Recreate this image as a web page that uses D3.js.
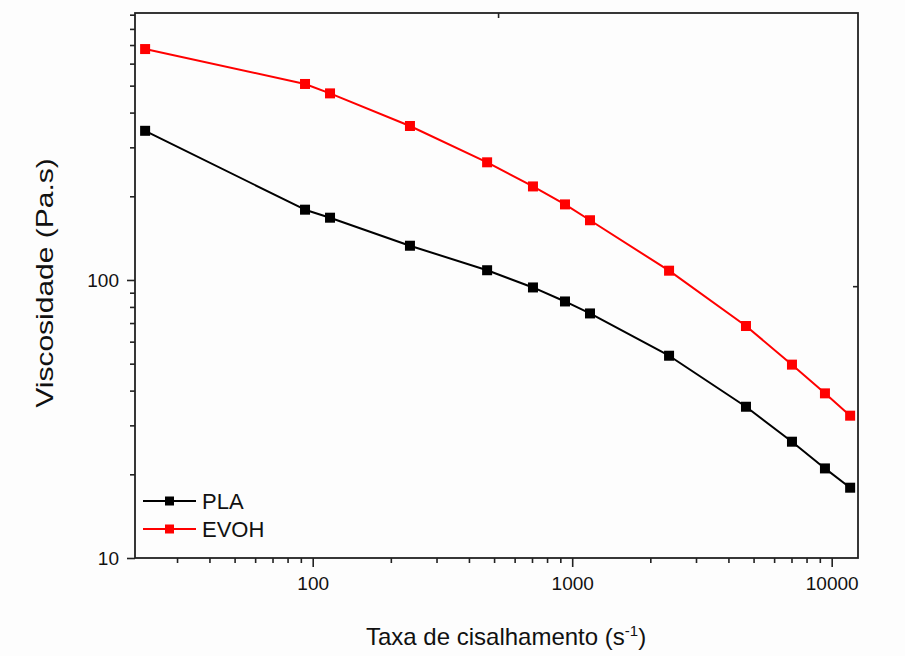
<!DOCTYPE html>
<html>
<head>
<meta charset="utf-8">
<script src="https://cdn.jsdelivr.net/npm/d3@7"></script>
<style>
  html, body { margin: 0; padding: 0; background: #fdfdfd; }
  svg { display: block; }
  text { font-family: "Liberation Sans", Arial, sans-serif; fill: #111; }
</style>
</head>
<body>
<script>
// ---- data ----
const shearRate = [22.6, 93.4, 116.6, 237, 470, 706, 938, 1171, 2362, 4674, 7030, 9420, 11780];
const plaViscosity = [344, 179, 167.5, 132.8, 108.4, 94.0, 83.7, 75.8, 53.4, 35.0, 26.2, 21.0, 17.9];
const evohViscosity = [677, 507, 469, 358, 265, 217, 187, 164, 108, 68.3, 49.6, 39.1, 32.5];
const seriesNames = ["PLA", "EVOH"];
const seriesColors = ["#000000", "#ff0000"];
const xDomain = [20.66, 12630];
const yDomain = [10, 912.6];
const xMajorTicks = [100, 1000, 10000];
const xMinorTicks = [30, 40, 50, 60, 70, 80, 90, 200, 300, 400, 500, 600, 700, 800, 900,
                     2000, 3000, 4000, 5000, 6000, 7000, 8000, 9000];
const yMajorTicks = [10, 100];
const yMinorTicks = [20, 30, 40, 50, 60, 70, 80, 90, 200, 300, 400, 500, 600, 700, 800, 900];
const topTicks = [518];
const rightTicks = [95];
const xTitle = "Taxa de cisalhamento (s";
const xTitleSup = "-1";
const yTitle = "Viscosidade (Pa.s)";

// ---- layout ----
const W = 905, H = 656;
const L = 135, R = 858, T = 13, B = 558;

const svg = d3.select("body").append("svg").attr("width", W).attr("height", H);
svg.append("rect").attr("width", W).attr("height", H).attr("fill", "#fdfdfd");

const x = d3.scaleLog().domain(xDomain).range([L, R]);
const y = d3.scaleLog().domain(yDomain).range([B, T]);

// axes
const fmt = d => d3.format("d")(d);
svg.append("g").attr("transform", `translate(0,${B})`)
  .call(d3.axisBottom(x).tickValues(xMajorTicks).tickFormat(fmt).tickSize(9).tickPadding(10));
svg.append("g").attr("transform", `translate(0,${B})`)
  .call(d3.axisBottom(x).tickValues(xMinorTicks).tickFormat("").tickSize(5));
svg.append("g").attr("transform", `translate(${L},0)`)
  .call(d3.axisLeft(y).tickValues(yMajorTicks).tickFormat(fmt).tickSize(8).tickPadding(8));
svg.append("g").attr("transform", `translate(${L},0)`)
  .call(d3.axisLeft(y).tickValues(yMinorTicks).tickFormat("").tickSize(5));
svg.append("g").attr("transform", `translate(0,${T})`)
  .call(d3.axisBottom(x).tickValues(topTicks).tickFormat("").tickSize(5));
svg.append("g").attr("transform", `translate(${R},0)`)
  .call(d3.axisLeft(y).tickValues(rightTicks).tickFormat("").tickSize(5));

svg.selectAll(".domain").remove();
svg.selectAll(".tick line").attr("stroke", "#222").attr("stroke-width", 1.6);
svg.selectAll(".tick text").style("font-size", "19px").attr("fill", "#111")
  .style("font-family", "'Liberation Sans', Arial, sans-serif");

// frame
svg.append("rect").attr("x", L).attr("y", T).attr("width", R - L).attr("height", B - T)
  .attr("fill", "none").attr("stroke", "#222").attr("stroke-width", 1.8);

// series
const series = [plaViscosity, evohViscosity];
const line = d3.line().x(d => x(d[0])).y(d => y(d[1])).curve(d3.curveLinear);
series.forEach((vals, i) => {
  const pts = shearRate.map((s, j) => [s, vals[j]]);
  svg.append("path").attr("d", line(pts)).attr("fill", "none")
    .attr("stroke", seriesColors[i]).attr("stroke-width", 2).attr("stroke-linejoin", "round");
  svg.append("g").selectAll("rect").data(pts).join("rect")
    .attr("x", d => x(d[0]) - 5).attr("y", d => y(d[1]) - 5)
    .attr("width", 10).attr("height", 10).attr("fill", seriesColors[i]);
});

// legend
seriesNames.forEach((name, i) => {
  const ly = 501 + i * 28;
  svg.append("line").attr("x1", 143).attr("x2", 196).attr("y1", ly).attr("y2", ly)
    .attr("stroke", seriesColors[i]).attr("stroke-width", 2);
  svg.append("rect").attr("x", 165).attr("y", ly - 4.5).attr("width", 9).attr("height", 9)
    .attr("fill", seriesColors[i]);
  svg.append("text").attr("x", 202).attr("y", ly + 7.5).style("font-size", "22px").text(name);
});

// axis titles
const xt = svg.append("text").attr("x", 366).attr("y", 645).style("font-size", "24px");
xt.append("tspan").text(xTitle);
xt.append("tspan").attr("dy", -9).style("font-size", "15px").text(xTitleSup);
xt.append("tspan").attr("dy", 9).text(")");

svg.append("text").attr("transform", "translate(53,283) rotate(-90) scale(1.25,1)")
  .attr("text-anchor", "middle").style("font-size", "24px").text(yTitle);
</script>
</body>
</html>
